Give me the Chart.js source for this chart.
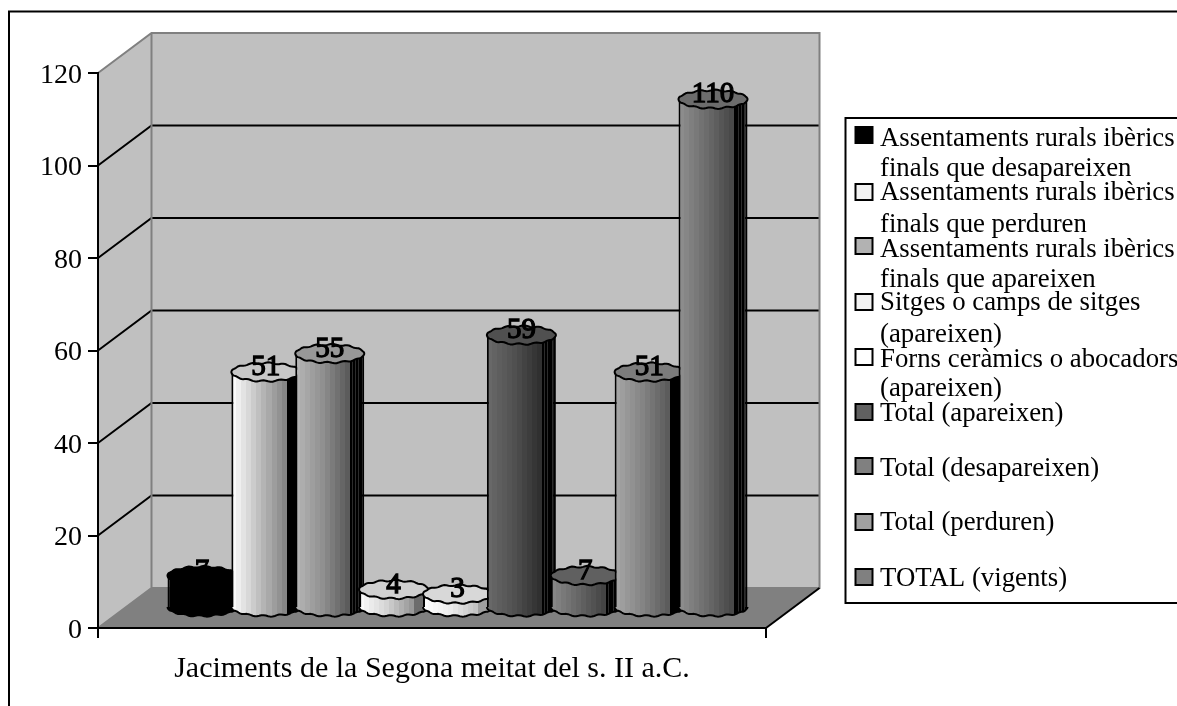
<!DOCTYPE html>
<html>
<head>
<meta charset="utf-8">
<style>html,body{margin:0;padding:0;background:#fff;overflow:hidden}canvas{display:block}</style>
<script src="https://cdn.jsdelivr.net/npm/chart.js@4/dist/chart.umd.min.js"></script>
</head>
<body>
<canvas id="c" width="1177" height="706"></canvas>
<script>
const categories = ["Jaciments de la Segona meitat del s. II a.C."];
const seriesNames = [
  "Assentaments rurals ibèrics finals que desapareixen",
  "Assentaments rurals ibèrics finals que perduren",
  "Assentaments rurals ibèrics finals que apareixen",
  "Sitges o camps de sitges (apareixen)",
  "Forns ceràmics o abocadors (apareixen)",
  "Total (apareixen)",
  "Total (desapareixen)",
  "Total (perduren)",
  "TOTAL (vigents)"
];
const legendLines = [
  ["Assentaments rurals ibèrics","finals que desapareixen"],
  ["Assentaments rurals ibèrics","finals que perduren"],
  ["Assentaments rurals ibèrics","finals que apareixen"],
  ["Sitges o camps de sitges","(apareixen)"],
  ["Forns ceràmics o abocadors","(apareixen)"],
  ["Total (apareixen)"],["Total (desapareixen)"],["Total (perduren)"],["TOTAL (vigents)"]
];
const seriesValues = [7, 51, 55, 4, 3, 59, 7, 51, 110];
const yTicks = [0, 20, 40, 60, 80, 100, 120];

// styles
const swatchColors = ["#000000","#f2f2f2","#b2b2b2","#f2f2f2","#ffffff","#606060","#808080","#a0a0a0","#808080"];
const capColors    = ["#000000","#c8c8c8","#989898","#d0d0d0","#d8d8d8","#505050","#606060","#7c7c7c","#6c6c6c"];
const shadeStops = [
  ["#000000","#000000","#000000"],
  ["#fbfbfb","#c0c0c0","#868686"],
  ["#b4b4b4","#909090","#5c5c5c"],
  ["#fbfbfb","#d4d4d4","#989898"],
  ["#ffffff","#ececec","#c4c4c4"],
  ["#686868","#505050","#303030"],
  ["#868686","#666666","#444444"],
  ["#a4a4a4","#848484","#5c5c5c"],
  ["#8c8c8c","#6c6c6c","#484848"]
];
const edgeColors = ["#000000","#000000","#000000","#6c6c6c","#a0a0a0","#000000","#000000","#000000","#000000"];
const stripedEdge = [false,false,true,false,false,true,true,false,true];
const serif = '"Liberation Serif","Times New Roman",serif';
const DEPTH = {x:53.5, y:-40};
const PLANE = {x:25.5, y:-20};
const legendBox = {x:845.5, top:118, bottom:603};
const legendSwatchY = [135,192,246,302,357,412,466,522,577];
const legendBaselines = [[146,176],[200,232],[257,287],[310,342],[367,396],[421],[476],[530],[586]];

function hex(c){return [1,3,5].map(i=>parseInt(c.substr(i,2),16));}
function mix(a,b,t){const A=hex(a),B=hex(b);return 'rgb('+A.map((v,i)=>Math.round(v+(B[i]-v)*t)).join(',')+')';}

function barGradient(ctx,left,width,i){
  const g = ctx.createLinearGradient(left,0,left+width,0);
  const s = shadeStops[i], lit = 0.80, bands = 11;
  const put=(a,b,c)=>{g.addColorStop(a,c);g.addColorStop(b,c);};
  for(let k=0;k<bands;k++){
    const t=k/(bands-1);
    const col = t<0.5 ? mix(s[0],s[1],t*2) : mix(s[1],s[2],(t-0.5)*2);
    put(lit*k/bands, lit*(k+1)/bands, col);
  }
  if(stripedEdge[i]){
    const n=5;
    for(let k=0;k<n;k++){
      const a=lit+(1-lit)*k/n, b=lit+(1-lit)*(k+1)/n;
      put(a,a+(b-a)*0.72,'#000');
      put(a+(b-a)*0.72,b,'#2c2c2c');
    }
  } else put(lit,1,edgeColors[i]);
  return g;
}
// lumpy rim of the faceted cylinder, as in the low-poly original
function ring(ctx,cx,cy,rx,ry,from,to){
  const n=96, lobes=13;
  for(let k=Math.round(from*n);k<=Math.round(to*n);k++){
    const a=k/n*Math.PI*2;
    const w=1+0.09*Math.cos(a*lobes+0.6);
    const px=cx+rx*Math.cos(a), py=cy+ry*Math.sin(a)*w;
    if(k===Math.round(from*n)) ctx.moveTo(px,py); else ctx.lineTo(px,py);
  }
}

const cylinders3d = {
  id:'cylinders3d',
  beforeDraw(chart){
    const {ctx,chartArea:a,scales:{y}}=chart;
    ctx.save();
    ctx.fillStyle='#fff';ctx.fillRect(0,0,chart.width,chart.height);
    ctx.strokeStyle='#000';ctx.lineWidth=2;ctx.strokeRect(9,11.5,1200,730);
    const bx=a.left+DEPTH.x, bw=a.right+DEPTH.x, by=a.top+DEPTH.y, bb=a.bottom+DEPTH.y;
    ctx.fillStyle='#c0c0c0';
    ctx.fillRect(bx,by,bw-bx,bb-by);
    ctx.beginPath();ctx.moveTo(a.left,a.top);ctx.lineTo(bx,by);ctx.lineTo(bx,bb);ctx.lineTo(a.left,a.bottom);ctx.closePath();ctx.fill();
    ctx.fillStyle='#808080';
    ctx.beginPath();ctx.moveTo(a.left,a.bottom);ctx.lineTo(bx,bb);ctx.lineTo(bw,bb);ctx.lineTo(a.right,a.bottom);ctx.closePath();ctx.fill();
    ctx.strokeStyle='#000';ctx.lineWidth=2;
    yTicks.slice(1,-1).forEach(v=>{
      const p=y.getPixelForValue(v);
      ctx.beginPath();ctx.moveTo(a.left,p);ctx.lineTo(bx,p+DEPTH.y);ctx.lineTo(bw,p+DEPTH.y);ctx.stroke();
    });
    ctx.strokeStyle='#808080';
    ctx.beginPath();
    ctx.moveTo(a.left,a.top);ctx.lineTo(bx,by);ctx.lineTo(bw,by);ctx.lineTo(bw,bb);ctx.lineTo(bx,bb);ctx.lineTo(bx,by);
    ctx.moveTo(bx,bb);ctx.lineTo(a.left,a.bottom);
    ctx.stroke();
    ctx.strokeStyle='#000';
    ctx.beginPath();ctx.moveTo(a.right,a.bottom);ctx.lineTo(bw,bb);ctx.stroke();
    ctx.restore();
  },
  beforeDatasetsDraw(chart){
    const ctx=chart.ctx;
    const elems=chart.data.datasets.map((d,i)=>chart.getDatasetMeta(i).data[0]);
    elems.forEach((el,i)=>{
      const left=el.x-el.width/2, rx=el.width/2, ry=9;
      const grad=barGradient(ctx,left,el.width,i);
      ctx.save();
      ctx.translate(PLANE.x,PLANE.y);
      ctx.lineWidth=2;ctx.strokeStyle='#000';ctx.lineJoin='round';
      ctx.beginPath();ring(ctx,el.x,el.base,rx,ry,0,0.5);
      ctx.fillStyle=grad;ctx.fill();ctx.stroke();
      const saved=el.options;
      el.options=Object.assign({},saved,{backgroundColor:grad});
      el.draw(ctx);
      el.options=saved;
      ctx.beginPath();ring(ctx,el.x,el.y,rx,ry,0,1);ctx.closePath();
      ctx.fillStyle=capColors[i];ctx.fill();ctx.stroke();
      ctx.restore();
    });
    ctx.save();
    ctx.font='29px '+serif;ctx.textAlign='center';ctx.textBaseline='alphabetic';
    ctx.fillStyle='#000';ctx.strokeStyle='#000';ctx.lineWidth=1.3;
    elems.forEach((el,i)=>{
      const px=el.x+PLANE.x, py=el.y+PLANE.y+3, s=String(seriesValues[i]);
      ctx.fillText(s,px,py);ctx.strokeText(s,px,py);
    });
    ctx.restore();
    return false;
  },
  afterDraw(chart){
    const ctx=chart.ctx;
    ctx.save();
    ctx.strokeStyle='#000';ctx.lineWidth=2;
    ctx.strokeRect(legendBox.x,legendBox.top,500,legendBox.bottom-legendBox.top);
    ctx.font='26.8px '+serif;ctx.textAlign='left';ctx.textBaseline='alphabetic';
    legendLines.forEach((lines,i)=>{
      const sy=legendSwatchY[i];
      ctx.fillStyle=swatchColors[i];ctx.fillRect(855.5,sy-8,17,16);
      ctx.strokeStyle='#000';ctx.lineWidth=2;ctx.strokeRect(855.5,sy-8,17,16);
      ctx.fillStyle='#000';
      lines.forEach((t,k)=>ctx.fillText(t,880,legendBaselines[i][k]));
    });
    ctx.restore();
  }
};

new Chart(document.getElementById('c'),{
  type:'bar',
  data:{
    labels:categories,
    datasets:seriesNames.map((n,i)=>({
      label:n,
      data:[seriesValues[i]],
      backgroundColor:swatchColors[i],
      borderColor:'#000',
      borderWidth:{left:2,right:2,top:0,bottom:0},
      borderSkipped:false,
      categoryPercentage:574.9/668,
      barPercentage:69/63.875
    }))
  },
  options:{
    responsive:false,
    animation:false,
    devicePixelRatio:1,
    layout:{padding:{left:0,top:73,right:411,bottom:0}},
    plugins:{legend:{display:false},tooltip:{enabled:false},title:{display:false}},
    scales:{
      x:{
        grid:{drawOnChartArea:false,color:'#000',lineWidth:2,tickLength:10,offset:true},
        border:{color:'#000',width:2},
        ticks:{color:'#000',font:{family:serif,size:30},padding:13,maxRotation:0,autoSkip:false},
        afterFit(s){s.height=78;s.paddingLeft=0;s.paddingRight=0;}
      },
      y:{
        min:0,max:120,
        grid:{drawOnChartArea:false,color:'#000',lineWidth:2,tickLength:10},
        border:{color:'#000',width:2},
        ticks:{color:'#000',font:{family:serif,size:28},padding:6,stepSize:20,labelOffset:2.5},
        afterFit(s){s.width=98;s.paddingTop=0;s.paddingBottom=0;}
      }
    }
  },
  plugins:[cylinders3d]
});
</script>
</body>
</html>
